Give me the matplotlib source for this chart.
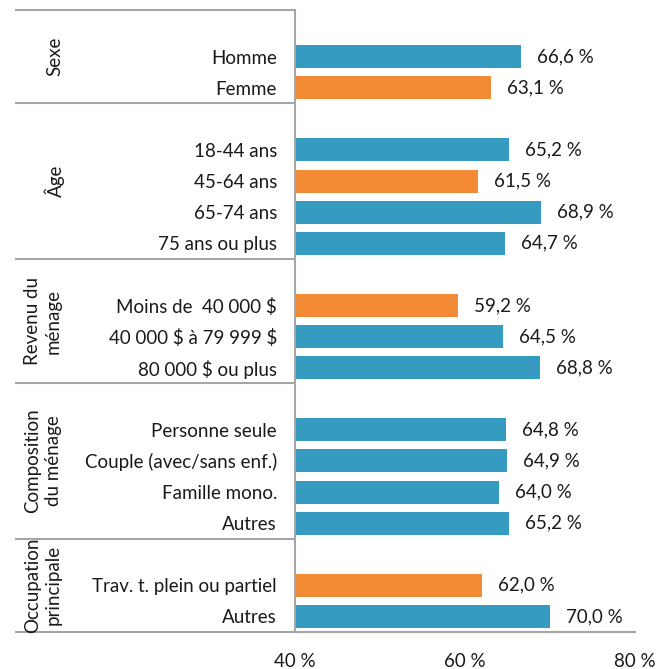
import matplotlib
matplotlib.use("Agg")
import matplotlib.pyplot as plt
import matplotlib.transforms as mtransforms

plt.rcParams['font.family'] = ['Lato', 'DejaVu Sans']
plt.rcParams['text.parse_math'] = False

groups = ["Sexe", "Âge", "Revenu du\nménage", "Composition\ndu ménage", "Occupation\nprincipale"]
group_cats = [
    ["Homme", "Femme"],
    ["18-44 ans", "45-64 ans", "65-74 ans", "75 ans ou plus"],
    ["Moins de  40 000 $", "40 000 $ à 79 999 $", "80 000 $ ou plus"],
    ["Personne seule", "Couple (avec/sans enf.)", "Famille mono.", "Autres"],
    ["Trav. t. plein ou partiel", "Autres"],
]
group_vals = [
    [66.6, 63.1],
    [65.2, 61.5, 68.9, 64.7],
    [59.2, 64.5, 68.8],
    [64.8, 64.9, 64.0, 65.2],
    [62.0, 70.0],
]
group_hi = [
    [False, True],
    [False, True, False, False],
    [True, False, False],
    [False, False, False, False],
    [True, False],
]
xticks = [40, 60, 80]
xticklabels = ["40 %", "60 %", "80 %"]

BLUE = "#359BC0"
ORANGE = "#F28A36"
LINE = "#A6A6A6"
TXT = "#1a1a1a"
FS = 13.5

fig = plt.figure(figsize=(6.71, 6.69), dpi=100)
W, H = 671, 669
ax = fig.add_axes([295 / W, 1 - 632 / H, (635 - 295) / W, (632 - 10) / H])

ypos, labels, vals, cols, seps, centers = [], [], [], [], [-1.5], []
s = -1
for cats, vs, hi in zip(group_cats, group_vals, group_hi):
    top = s - 0.5
    s += 1
    for c, v, h in zip(cats, vs, hi):
        ypos.append(s)
        labels.append(c)
        vals.append(v)
        cols.append(ORANGE if h else BLUE)
        s += 1
    bottom = s - 0.5
    seps.append(bottom)
    centers.append((top + bottom) / 2)

ax.barh(ypos, [v - 40 for v in vals], left=40, height=0.74, color=cols)
for y, v in zip(ypos, vals):
    ax.annotate(f"{v:.1f} %".replace(".", ","), xy=(v, y), xytext=(16, 0),
                textcoords="offset pixels", va="center", ha="left", fontsize=FS, color=TXT)

ax.set_xlim(40, 80)
ax.set_ylim(seps[-1], -1.5)
ax.set_yticks(ypos)
ax.set_yticklabels(labels, fontsize=FS, color=TXT)
ax.tick_params(axis="y", length=0, pad=13)
ax.set_xticks(xticks)
ax.set_xticklabels(xticklabels, fontsize=FS, color=TXT)
ax.tick_params(axis="x", length=0, pad=15)
for sp in ["top", "right"]:
    ax.spines[sp].set_visible(False)
for sp in ["left", "bottom"]:
    ax.spines[sp].set_color(LINE)
    ax.spines[sp].set_linewidth(1.5)

trans = mtransforms.blended_transform_factory(ax.transAxes, ax.transData)
x0 = (15 - 295) / 340
for i, y in enumerate(seps):
    ax.plot([x0, 1.0 if i == len(seps) - 1 else 0], [y, y], transform=trans,
            color=LINE, lw=1.5, clip_on=False, solid_capstyle="butt")

for g, c in zip(groups, centers):
    xg = (55 - 295) / 340 if "\n" not in g else (43 - 295) / 340
    ax.text(xg, c, g, transform=trans, rotation=90, ha="center", va="center",
            fontsize=FS, color=TXT, multialignment="center", linespacing=1.3)

fig.savefig("out.png", dpi=100)
